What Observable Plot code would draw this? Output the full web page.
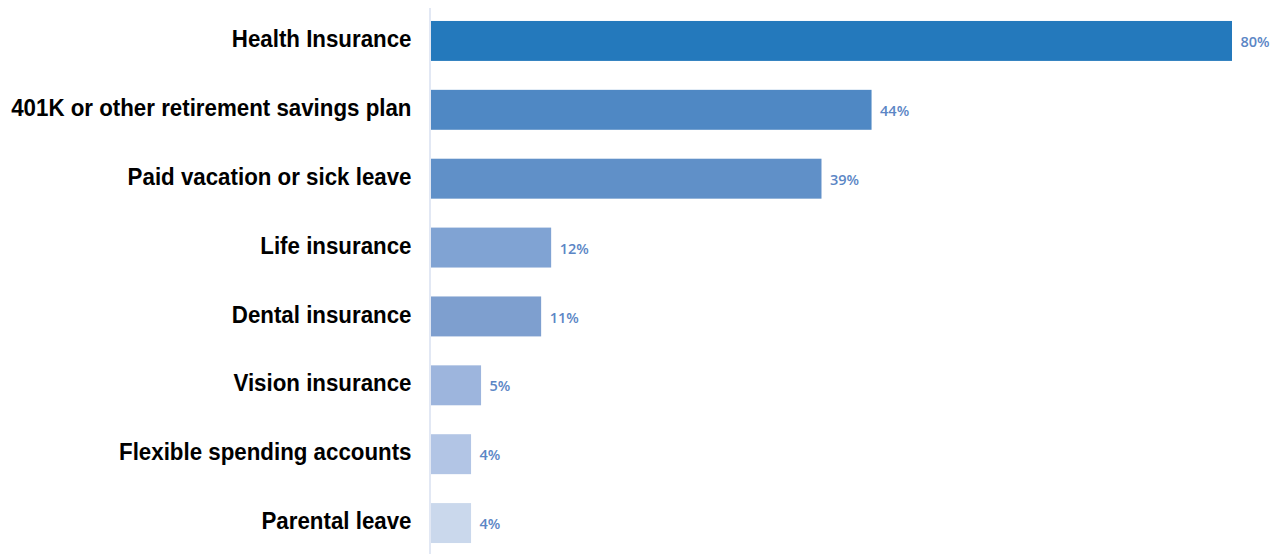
<!DOCTYPE html>
<html>
<head>
<meta charset="utf-8">
<script src="https://cdn.jsdelivr.net/npm/d3@7"></script>
<script src="https://cdn.jsdelivr.net/npm/@observablehq/plot@0.6"></script>
<style>
  html, body { margin: 0; padding: 0; background: #fff; }
  #chart svg { display: block; }
</style>
</head>
<body>
<div id="chart"></div>
<script>
const categories = [
  "Health Insurance",
  "401K or other retirement savings plan",
  "Paid vacation or sick leave",
  "Life insurance",
  "Dental insurance",
  "Vision insurance",
  "Flexible spending accounts",
  "Parental leave"
];
const values = [80, 44, 39, 12, 11, 5, 4, 4];
const valueLabels = ["80%", "44%", "39%", "12%", "11%", "5%", "4%", "4%"];
const barColors = ["#2479bc", "#4f88c4", "#6090c8", "#80a3d3", "#7e9fcf", "#9db5dd", "#b2c5e5", "#cad8ec"];

const data = categories.map((c, i) => ({category: c, value: values[i], label: valueLabels[i]}));

const labelFont = '"Liberation Sans", Arial, sans-serif';
const condense = 0.93;

const chart = Plot.plot({
  width: 1276,
  height: 554,
  marginLeft: 431,
  marginRight: 44,
  marginTop: 0,
  marginBottom: 0,
  style: {background: "#fff", overflow: "visible"},
  x: {domain: [0, 80], axis: null},
  y: {domain: categories, range: [6.5, 557.5], paddingInner: 0.42, paddingOuter: 0.21, round: false, label: null},
  color: {domain: categories, range: barColors},
  marks: [
    Plot.ruleX([0], {dx: -1.5, strokeWidth: 2, stroke: "#e2e8f4", insetTop: 8}),
    Plot.barX(data, {x: "value", y: "category", fill: "category"}),
    Plot.text(data, {x: "value", y: "category", text: "label", dx: 8, dy: 1, textAnchor: "start",
      fill: "#5b86c5", fontSize: 14.5, fontWeight: 600, fontFamily: '"Open Sans", "DejaVu Sans", sans-serif'}),
    Plot.axisY({tickSize: 0, tickPadding: 20, dy: -2, fontSize: 24, fontWeight: "bold", fill: "#000",
      fontFamily: labelFont, label: null,
      render(index, scales, values, dimensions, context, next) {
        const g = next(index, scales, values, dimensions, context);
        g.querySelectorAll("text").forEach(t => {
          const tr = t.getAttribute("transform") || "";
          t.setAttribute("transform", `${tr} scale(${condense},1)`);
        });
        return g;
      }
    })
  ]
});
document.getElementById("chart").appendChild(chart);
</script>
</body>
</html>
